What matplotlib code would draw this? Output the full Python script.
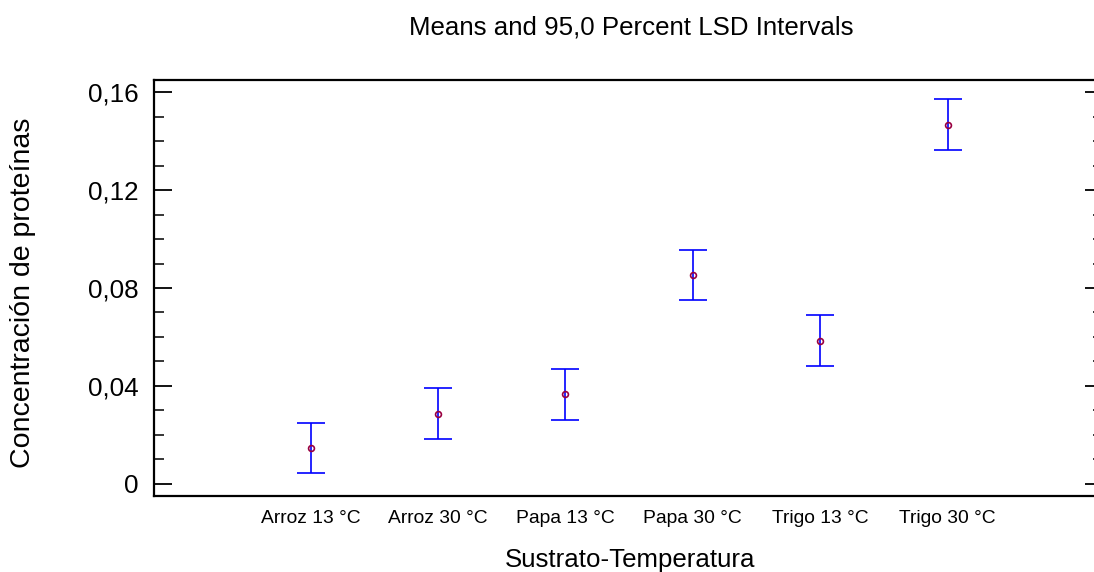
import matplotlib
matplotlib.use("Agg")
import matplotlib.pyplot as plt
from matplotlib.ticker import MultipleLocator, FuncFormatter

# group means and LSD half-widths (95 %)
groups = ["Arroz 13 °C", "Arroz 30 °C", "Papa 13 °C", "Papa 30 °C", "Trigo 13 °C", "Trigo 30 °C"]
means = [0.0147, 0.0287, 0.0366, 0.0853, 0.0584, 0.1466]
lsd_half = [0.0104, 0.0104, 0.0104, 0.0104, 0.0104, 0.0104]

plt.rcParams['font.family'] = ['Liberation Sans', 'DejaVu Sans']

fig = plt.figure(figsize=(10.94, 5.72), dpi=100)
# right edge of the frame runs just past the canvas
ax = fig.add_axes([154 / 1094, 1 - 496 / 572, (1103 - 154) / 1094, (496 - 80) / 572])

x = list(range(1, len(groups) + 1))
ax.errorbar(x, means, yerr=lsd_half, fmt='none', ecolor='#0000ff', elinewidth=1.2,
            capsize=10, capthick=1.2)
ax.plot(x, means, 'o', ms=4.2, mfc='none', mec='#990040', mew=1.2)

ax.set_xlim(-0.23, 7.22)
ax.set_ylim(-0.0049, 0.1649)
ax.set_xticks(x)
ax.set_xticklabels(groups, fontsize=13.9)
ax.tick_params(axis='x', length=0, pad=10)

ax.yaxis.set_major_locator(MultipleLocator(0.04))
ax.yaxis.set_minor_locator(MultipleLocator(0.01))
ax.yaxis.set_major_formatter(FuncFormatter(lambda v, p: "0" if abs(v) < 1e-9 else ("%.2f" % v).replace('.', ',')))
ax.tick_params(axis='y', which='major', direction='in', length=13, width=1.3,
               right=True, labelsize=18.7, pad=11)
ax.tick_params(axis='y', which='minor', direction='in', length=7, width=1.1, right=True)

for s in ax.spines.values():
    s.set_linewidth(1.6)

fig.text(631 / 1094, 1 - 35 / 572, "Means and 95,0 Percent LSD Intervals",
         ha='center', va='baseline', fontsize=18.6)
fig.text(630 / 1094, 1 - 567 / 572, "Sustrato-Temperatura",
         ha='center', va='baseline', fontsize=18.6)
fig.text(23 / 1094, 1 - 293 / 572, "Concentración de proteínas",
         ha='center', va='center', rotation=90, fontsize=20.5)

fig.savefig("out.png", dpi=100)
